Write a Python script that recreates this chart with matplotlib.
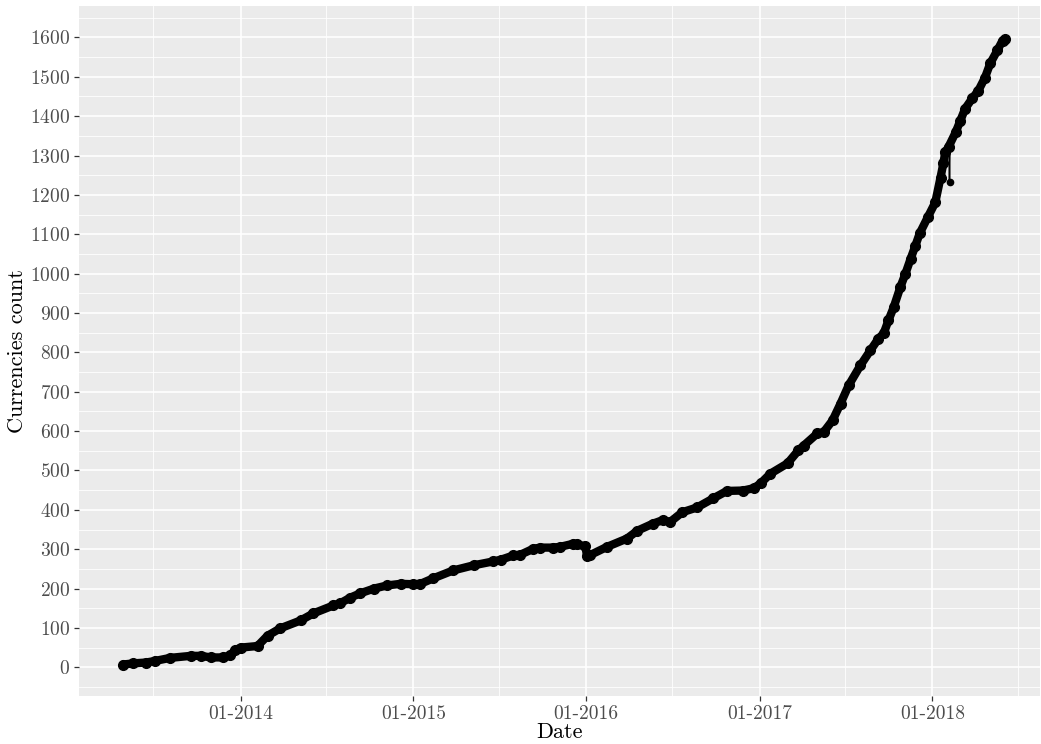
import numpy as np
import matplotlib.pyplot as plt
import matplotlib.dates as mdates

plt.rcParams['font.family'] = ['cmr10', 'DejaVu Sans']
plt.rcParams['axes.formatter.use_mathtext'] = True

# values
dates = ['2013-04-28', '2013-05-20', '2013-06-15', '2013-07-04', '2013-08-06', '2013-09-18',
         '2013-10-10', '2013-10-30', '2013-11-26', '2013-12-10', '2013-12-20', '2014-01-01',
         '2014-02-06', '2014-02-27', '2014-03-26', '2014-05-08', '2014-06-04', '2014-07-16',
         '2014-07-31', '2014-08-21', '2014-09-11', '2014-10-10', '2014-11-07', '2014-12-05',
         '2015-01-01', '2015-01-16', '2015-02-12', '2015-03-26', '2015-05-08', '2015-06-19',
         '2015-07-04', '2015-07-31', '2015-08-15', '2015-09-11', '2015-09-26', '2015-10-23',
         '2015-11-07', '2015-12-05', '2015-12-13', '2015-12-30', '2016-01-03', '2016-01-09',
         '2016-02-14', '2016-03-27', '2016-04-18', '2016-05-21', '2016-06-11', '2016-06-26',
         '2016-07-22', '2016-08-22', '2016-09-25', '2016-10-24', '2016-11-27', '2016-12-20',
         '2017-01-03', '2017-01-24', '2017-03-01', '2017-03-24', '2017-04-04', '2017-05-03',
         '2017-05-16', '2017-06-04', '2017-06-21', '2017-07-08', '2017-08-02', '2017-08-23',
         '2017-09-09', '2017-09-20', '2017-09-30', '2017-10-11', '2017-10-25', '2017-11-05',
         '2017-11-16', '2017-11-26', '2017-12-05', '2017-12-22', '2018-01-07', '2018-01-18',
         '2018-01-24', '2018-01-28', '2018-02-04', '2018-02-19', '2018-03-01', '2018-03-11',
         '2018-03-26', '2018-04-08', '2018-04-22', '2018-05-03', '2018-05-18', '2018-05-29',
         '2018-06-04']
counts = [7, 10, 12, 16, 24, 29,
          29, 25, 25, 30, 43, 50,
          54, 80, 99, 119, 137, 157,
          163, 177, 188, 200, 208, 212,
          211, 212, 226, 246, 259, 269,
          273, 284, 286, 301, 304, 304,
          306, 314, 312, 307, 282, 285,
          306, 327, 347, 365, 374, 369,
          394, 406, 429, 448, 449, 455,
          467, 492, 518, 551, 563, 594,
          597, 627, 670, 716, 767, 805,
          835, 848, 881, 914, 965, 1000,
          1038, 1071, 1102, 1143, 1181, 1244,
          1280, 1308, 1322, 1359, 1389, 1419,
          1445, 1465, 1498, 1534, 1567, 1592,
          1595]

# one-day drop in early 2018
spike_dates = ['2018-02-05', '2018-02-06', '2018-02-07']
spike_counts = [1318, 1234, 1322]

d = np.array(dates, dtype='datetime64[D]')
sd = np.array(spike_dates, dtype='datetime64[D]')

fig = plt.figure(figsize=(10.41, 7.44), dpi=100)
ax = fig.add_axes([0.0759, 0.0645, 0.9231, 0.9275])
ax.set_facecolor('#EBEBEB')
for s in ax.spines.values():
    s.set_visible(False)

ax.plot(sd, spike_counts, color='black', lw=1.1, zorder=3)
ax.plot(sd[1:2], spike_counts[1:2], 'o', color='black', ms=4.5, zorder=3)
ax.plot(d, counts, color='black', lw=6, solid_joinstyle='round', solid_capstyle='round', zorder=4)
ax.plot(d, counts, 'o', color='black', ms=7, zorder=4)

ax.set_xlim(np.datetime64('2013-01-25'), np.datetime64('2018-08-16'))
ax.set_ylim(-73, 1680)

ax.xaxis.set_major_locator(mdates.YearLocator(month=1, day=1))
ax.xaxis.set_minor_locator(mdates.YearLocator(month=7, day=1))
ax.xaxis.set_major_formatter(mdates.DateFormatter('%m-%Y'))
ax.set_yticks(np.arange(0, 1601, 100))
ax.set_yticks(np.arange(-50, 1651, 100), minor=True)

ax.grid(True, which='major', color='white', lw=1.2)
ax.grid(True, which='minor', color='white', lw=0.6)
ax.set_axisbelow(True)
ax.tick_params(which='major', length=3.5, width=0.9, color='#333333', labelcolor='#4D4D4D',
               labelsize=14, pad=3)
ax.tick_params(which='minor', length=0)

ax.set_xlabel('Date', fontsize=16, labelpad=0)
ax.set_ylabel('Currencies count', fontsize=16, labelpad=2)

fig.savefig('out.png', dpi=100)
